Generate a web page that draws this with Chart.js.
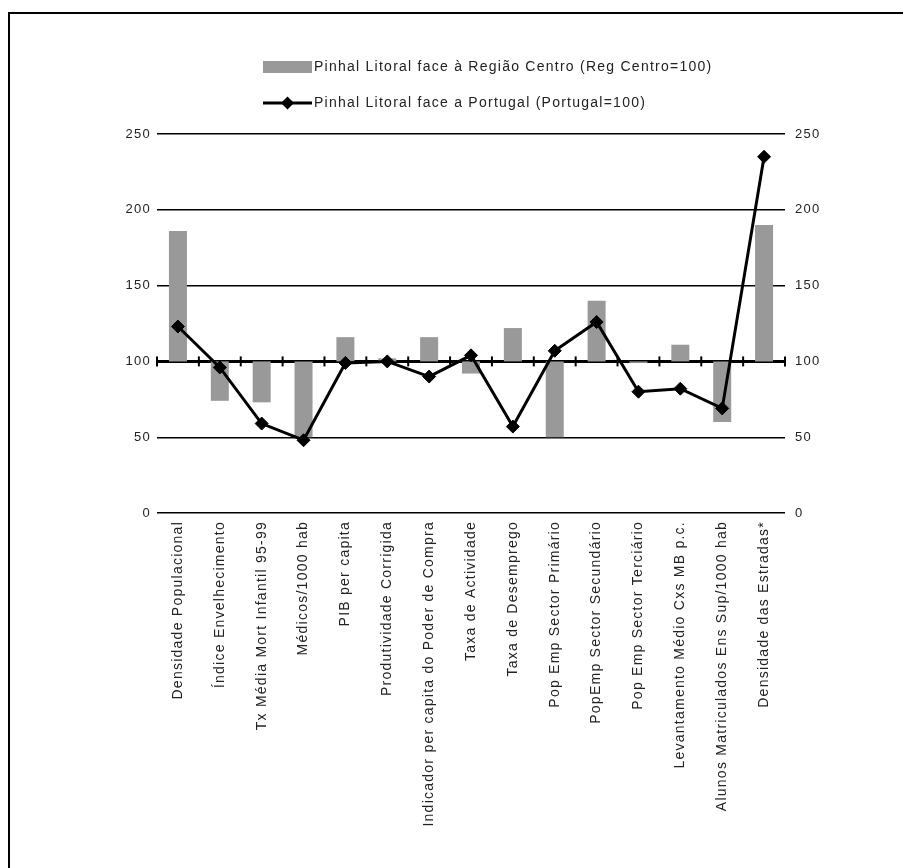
<!DOCTYPE html>
<html>
<head>
<meta charset="utf-8">
<script src="https://cdn.jsdelivr.net/npm/chart.js@4.4.0/dist/chart.umd.min.js"></script>
<style>
  html, body { margin: 0; padding: 0; background: #fff; overflow: hidden; }
  #wrap { position: absolute; left: 0; top: 0; width: 903px; height: 868px; overflow: hidden; }
  #frame { position: absolute; left: 8px; top: 12px; width: 920px; height: 900px;
           border-top: 2px solid #000; border-left: 2px solid #000; }
  #c { position: absolute; left: 0; top: 0; }
</style>
</head>
<body>
<div id="wrap">
  <div id="frame"></div>
  <canvas id="c" width="903" height="868"></canvas>
</div>
<script>
// Indicators compared (index: reference = 100)
const categories = [
  "Densidade Populacional",
  "Índice Envelhecimento",
  "Tx Média Mort Infantil 95-99",
  "Médicos/1000 hab",
  "PIB per capita",
  "Produtividade Corrigida",
  "Indicador per capita do Poder de Compra",
  "Taxa de Actividade",
  "Taxa de Desemprego",
  "Pop Emp Sector Primário",
  "PopEmp Sector Secundário",
  "Pop Emp Sector Terciário",
  "Levantamento Médio Cxs MB p.c.",
  "Alunos Matriculados Ens Sup/1000 hab",
  "Densidade das Estradas*"
];

// Pinhal Litoral vs Região Centro (Reg Centro = 100)
const regiaoCentro = [186, 74, 73, 50, 116, 102, 116, 92, 122, 50, 140, 99, 111, 60, 190];

// Pinhal Litoral vs Portugal (Portugal = 100)
const portugal = [123, 96, 59, 48, 99, 100, 90, 104, 57, 107, 126, 80, 82, 69, 235];

const baseLine = 100;
const yTicks = [0, 50, 100, 150, 200, 250];

const seriesNames = [
  "Pinhal Litoral face à Região Centro (Reg Centro=100)",
  "Pinhal Litoral face a Portugal (Portugal=100)"
];

const FONT = '"Liberation Sans", Arial, sans-serif';
const TEXT_COLOR = '#222';

// Wide-tracked text for labels and legend
const tracking = {
  id: 'tracking',
  beforeDraw(chart) {
    if ('letterSpacing' in chart.ctx) chart.ctx.letterSpacing = '1.25px';
  }
};

// Short tick marks on the 100 reference line, at each category boundary
const baseTicks = {
  id: 'baseTicks',
  beforeDatasetsDraw(chart) {
    const { ctx, scales } = chart;
    const xs = scales.x, ys = scales.y;
    const y = ys.getPixelForValue(baseLine);
    ctx.save();
    ctx.strokeStyle = '#000';
    ctx.lineWidth = 2;
    for (let i = 0; i <= categories.length; i++) {
      const x = xs.getPixelForValue(i - 0.5);
      ctx.beginPath();
      ctx.moveTo(x, y - 5);
      ctx.lineTo(x, y + 5);
      ctx.stroke();
    }
    ctx.restore();
  }
};

// Two-row legend stacked above the plot
const stackedLegend = {
  id: 'stackedLegend',
  afterDraw(chart) {
    const { ctx } = chart;
    const left = 263, swatchW = 49, textX = 314;
    const rows = [67, 103];
    ctx.save();
    ctx.font = '14px ' + FONT;
    ctx.textBaseline = 'middle';
    ctx.textAlign = 'left';
    chart.data.datasets.forEach((ds, i) => {
      const y = rows[i];
      if (ds.type === 'bar') {
        ctx.fillStyle = ds.backgroundColor;
        ctx.fillRect(left, y - 6, swatchW, 12);
      } else {
        ctx.strokeStyle = ds.borderColor;
        ctx.lineWidth = ds.borderWidth;
        ctx.beginPath();
        ctx.moveTo(left, y);
        ctx.lineTo(left + swatchW, y);
        ctx.stroke();
        const cx = left + swatchW / 2, r = ds.pointRadius;
        ctx.fillStyle = ds.pointBackgroundColor;
        ctx.beginPath();
        ctx.moveTo(cx, y - r);
        ctx.lineTo(cx + r, y);
        ctx.lineTo(cx, y + r);
        ctx.lineTo(cx - r, y);
        ctx.closePath();
        ctx.fill();
      }
      ctx.fillStyle = TEXT_COLOR;
      ctx.fillText(ds.label, textX, y);
    });
    ctx.restore();
  }
};

new Chart(document.getElementById('c'), {
  data: {
    labels: categories,
    datasets: [
      {
        type: 'bar',
        label: seriesNames[0],
        data: regiaoCentro.map(v => [baseLine, v]),
        backgroundColor: '#999999',
        borderWidth: 0,
        barPercentage: 0.86,
        categoryPercentage: 0.5,
        order: 2,
        yAxisID: 'y'
      },
      {
        type: 'line',
        label: seriesNames[1],
        data: portugal,
        borderColor: '#000',
        borderWidth: 3,
        pointStyle: 'rectRot',
        pointRadius: 6.5,
        pointBackgroundColor: '#000',
        pointBorderColor: '#000',
        pointBorderWidth: 1,
        tension: 0,
        fill: false,
        order: 1,
        yAxisID: 'y'
      }
    ]
  },
  options: {
    responsive: false,
    animation: false,
    events: [],
    layout: { padding: { top: 134, left: 0, right: 0, bottom: 0 } },
    plugins: {
      legend: { display: false },
      tooltip: { enabled: false },
      title: { display: false }
    },
    scales: {
      x: {
        offset: true,
        grid: { display: false, drawTicks: false },
        border: { display: false },
        ticks: {
          autoSkip: false,
          minRotation: 90,
          maxRotation: 90,
          padding: 8,
          color: TEXT_COLOR,
          font: { family: FONT, size: 14 }
        },
        afterFit(scale) { scale.height = 355; }
      },
      y: {
        position: 'left',
        min: 0,
        max: 250,
        afterBuildTicks(scale) { scale.ticks = yTicks.map(v => ({ value: v })); },
        grid: {
          color: '#000',
          lineWidth: c => (c.tick && c.tick.value === baseLine ? 3 : 1.4),
          drawTicks: false
        },
        border: { display: false },
        ticks: {
          padding: 6,
          color: TEXT_COLOR,
          font: { family: FONT, size: 13 }
        },
        afterFit(scale) { scale.width = 157; }
      },
      y2: {
        position: 'right',
        min: 0,
        max: 250,
        afterBuildTicks(scale) { scale.ticks = yTicks.map(v => ({ value: v })); },
        grid: { display: false, drawTicks: false },
        border: { display: false },
        ticks: {
          padding: 10,
          color: TEXT_COLOR,
          font: { family: FONT, size: 13 }
        },
        afterFit(scale) { scale.width = 118; }
      }
    }
  },
  plugins: [tracking, baseTicks, stackedLegend]
});
</script>
</body>
</html>
